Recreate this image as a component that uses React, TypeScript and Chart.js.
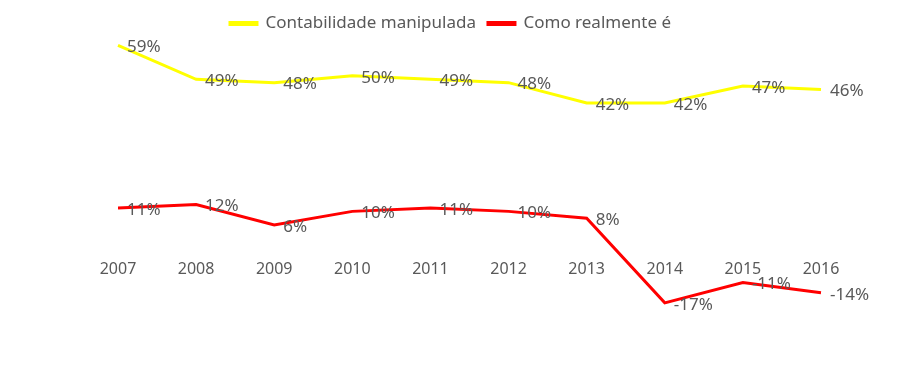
import React, { useEffect, useRef } from "react";
import { Chart, registerables } from "chart.js";

Chart.register(...registerables);

const categories = ["2007", "2008", "2009", "2010", "2011", "2012", "2013", "2014", "2015", "2016"];
const manipulada = [59, 49, 48, 50, 49, 48, 42, 42, 47, 46];
const realmente = [11, 12, 6, 10, 11, 10, 8, -17, -11, -14];
const seriesNames = ["Contabilidade manipulada", "Como realmente é"];

const FONT = "'Noto Sans', sans-serif";
const TEXT = "#595959";

const labelPlugin = {
  id: "pointLabels",
  afterDatasetsDraw(chart: any) {
    const ctx = chart.ctx;
    ctx.save();
    ctx.font = `17px ${FONT}`;
    ctx.fillStyle = TEXT;
    ctx.textAlign = "left";
    ctx.textBaseline = "middle";
    chart.data.datasets.forEach((ds: any, i: number) => {
      const meta = chart.getDatasetMeta(i);
      meta.data.forEach((pt: any, j: number) => {
        ctx.fillText(`${ds.data[j]}%`, pt.x + 9, pt.y + 2);
      });
    });
    ctx.restore();
  },
};

export default function App() {
  const ref = useRef<HTMLCanvasElement>(null);
  useEffect(() => {
    if (!ref.current) return;
    const chart = new Chart(ref.current, {
      type: "line",
      data: {
        labels: categories,
        datasets: [
          {
            label: seriesNames[0],
            data: manipulada,
            borderColor: "#FFFF00",
            backgroundColor: "#FFFF00",
            borderWidth: 3,
            pointRadius: 0,
            tension: 0,
          },
          {
            label: seriesNames[1],
            data: realmente,
            borderColor: "#FF0000",
            backgroundColor: "#FF0000",
            borderWidth: 3,
            pointRadius: 0,
            tension: 0,
          },
        ],
      },
      options: {
        animation: false,
        responsive: true,
        maintainAspectRatio: false,
        layout: { padding: { left: 80, right: 79, top: 3, bottom: 62 } },
        plugins: {
          legend: {
            position: "top",
            labels: {
              boxWidth: 27,
              boxHeight: 2,
              padding: 12,
              color: TEXT,
              font: { family: FONT, size: 17 },
            },
          },
          tooltip: { enabled: false },
        },
        scales: {
          x: {
            position: { y: 0 } as any,
            offset: false,
            grid: { display: false },
            border: { display: false },
            ticks: { color: TEXT, font: { family: FONT, size: 16 }, padding: 7, maxRotation: 0 },
          },
          y: {
            min: -20,
            max: 60,
            grid: { display: false },
            border: { display: false },
            ticks: { display: false },
            afterFit: (scale: any) => {
              scale.width = 38;
            },
          },
        },
      },
      plugins: [labelPlugin],
    });
    return () => chart.destroy();
  }, []);
  return (
    <div style={{ position: "absolute", left: 0, top: 0, width: 900, height: 375, background: "#fff" }}>
      <canvas ref={ref} />
    </div>
  );
}
